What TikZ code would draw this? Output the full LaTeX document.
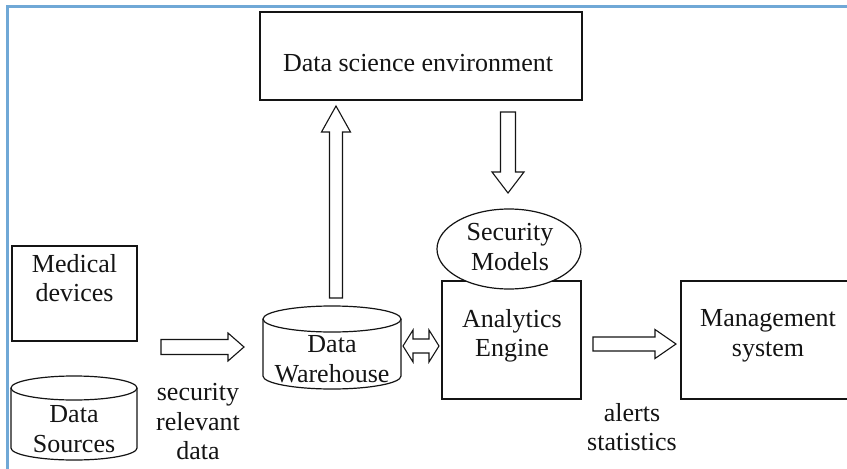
\documentclass[tikz,border=0pt]{standalone}
\usepackage{fontspec}
\setmainfont{Liberation Serif}
\usetikzlibrary{shapes.geometric}
\definecolor{frameblue}{RGB}{112,168,214}
\definecolor{ink}{RGB}{20,20,20}
\newcommand{\harrow}[6]{% x1 x2 yc shaft-half head-half head-length (pointing right)
  \draw[blockarrow] (#1,{#3-#4}) -- ({#2-#6},{#3-#4}) -- ({#2-#6},{#3-#5}) -- (#2,#3)
    -- ({#2-#6},{#3+#5}) -- ({#2-#6},{#3+#4}) -- (#1,{#3+#4}) -- cycle;}
\newcommand{\varrow}[6]{% y1 y2 xc shaft-half head-half head-length (pointing from y1 to y2)
  \pgfmathsetmacro{\hb}{#2>#1 ? #2-#6 : #2+#6}
  \draw[blockarrow] ({#3-#4},#1) -- ({#3-#4},\hb) -- ({#3-#5},\hb) -- (#3,#2)
    -- ({#3+#5},\hb) -- ({#3+#4},\hb) -- ({#3+#4},#1) -- cycle;}
\newcommand{\cyl}[5]{% xl xr ytop ybot ry
  \pgfmathsetmacro{\cx}{(#1+#2)/2}\pgfmathsetmacro{\rx}{(#2-#1)/2}
  \pgfmathsetmacro{\yt}{#3+#5}\pgfmathsetmacro{\yb}{#4-#5}
  \fill[white] (#1,\yt) -- (#1,\yb) arc[start angle=180,end angle=0,x radius=\rx,y radius=#5] -- (#2,\yt) -- cycle;
  \draw[box] (#1,\yt) -- (#1,\yb) arc[start angle=180,end angle=0,x radius=\rx,y radius=#5] -- (#2,\yt);
  \draw[box,fill=white] (\cx,\yt) ellipse[x radius=\rx,y radius=#5];}
\begin{document}
\begin{tikzpicture}[x=1pt,y=-1pt,
  box/.style={draw=ink,line width=1.2pt},
  blockarrow/.style={draw=ink,line width=1.1pt,fill=white,line join=miter},
  txt/.style={font=\fontsize{26}{29.5}\selectfont,align=center,inner sep=0pt,text=ink}]
\useasboundingbox (0,0) rectangle (847,469);
\fill[white] (0,0) rectangle (847,469);
\draw[frameblue,line width=3pt] (7,6) rectangle (870,490);

% boxes
\node[box,minimum width=322pt,minimum height=88pt,inner sep=0pt] (dse) at (421,56) {};
\node[txt] (dset) at (418,63) {Data science environment};

\node[box,minimum width=125pt,minimum height=95pt,inner sep=0pt] (med) at (74.5,293.5) {};
\node[txt] (medt) at (74.5,278) {Medical\\devices};

\node[box,minimum width=139pt,minimum height=118pt,inner sep=0pt] (eng) at (511.5,340) {};
\node[txt] (engt) at (512,336) {Analytics\\Engine};

\node[ellipse,box,fill=white,minimum width=144pt,minimum height=80pt,inner sep=0pt] (sec) at (509,249) {};
\node[txt] (sect) at (510,247) {Security\\Models};

\node[box,minimum width=175pt,minimum height=118pt,inner sep=0pt] (mgmt) at (768.5,340) {};
\node[txt] (mgmtt) at (768,336) {Management\\system};

% cylinders
\cyl{263}{401}{306}{389}{13}
\node[txt] (dwt) at (332,359) {Data\\Warehouse};
\cyl{11}{137}{376}{460}{12}
\node[txt] (dst) at (74,429) {Data\\Sources};

% labels
\node[txt] (srd) at (198,422) {security\\relevant\\data};
\node[txt] (als) at (632,427) {alerts\\statistics};

% block arrows
\harrow{161}{244}{347}{7.5}{14}{16}
\harrow{593}{676}{344}{7}{14.5}{21}
% double arrow
\draw[blockarrow] (403,346) -- (413,330) -- (413,339) -- (429,339) -- (429,330) -- (439,346)
  -- (429,362) -- (429,353) -- (413,353) -- (413,362) -- cycle;
\varrow{298}{106}{336}{6.5}{14.5}{26}
\varrow{112}{193}{508}{7.5}{16}{21}
\end{tikzpicture}
\end{document}
